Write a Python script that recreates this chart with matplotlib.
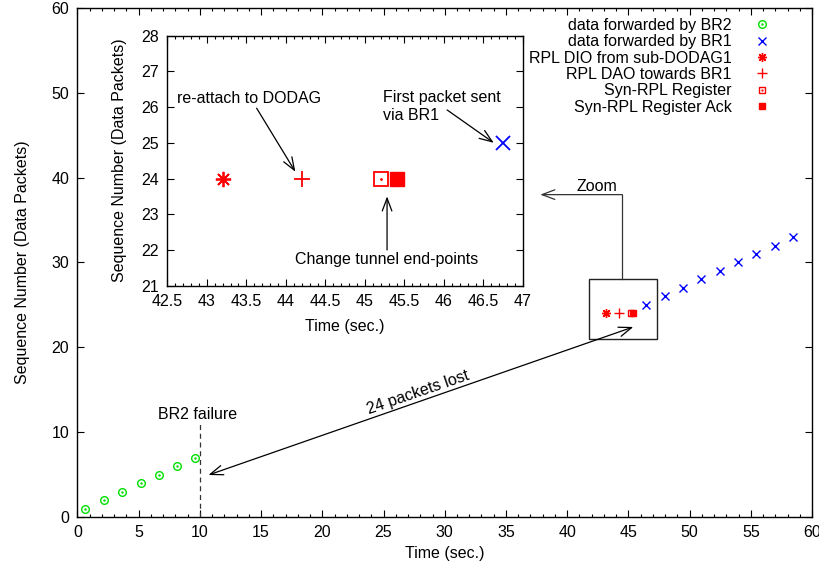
import matplotlib
matplotlib.use('Agg')
import matplotlib.pyplot as plt
from matplotlib.patches import Rectangle
from matplotlib.ticker import MultipleLocator
from matplotlib.legend_handler import HandlerTuple

plt.rcParams['font.family'] = ['Liberation Sans', 'DejaVu Sans']
plt.rcParams['font.size'] = 11.5

# packets forwarded by BR2 (before failure)
br2_time = [0.65, 2.15, 3.65, 5.15, 6.65, 8.15, 9.6]
br2_seq = [1, 2, 3, 4, 5, 6, 7]

# packets forwarded by BR1 (after recovery)
br1_time = [46.45, 47.95, 49.45, 50.95, 52.45, 53.95, 55.45, 56.95, 58.45]
br1_seq = [25, 26, 27, 28, 29, 30, 31, 32, 33]

# control messages, all at sequence 24
dio_time = [43.2]
dao_time = [44.2]
reg_time = [45.2]
ack_time = [45.4]
ctrl_seq = [24]

# first packet via BR1 as shown in the zoom
first_br1_time = [46.75]
first_br1_seq = [25]

GREEN = '#00e000'
BLUE = '#0000ff'
RED = '#ff0000'
ASTER = (8, 2, 0)


def style_ticks(ax):
    ax.tick_params(which='both', direction='in', top=True, right=True, pad=6)
    ax.tick_params(which='major', length=5, width=0.8)
    ax.tick_params(which='minor', length=2.5, width=0.8)
    for s in ax.spines.values():
        s.set_linewidth(1.0)


fig = plt.figure(figsize=(8.19, 5.71), dpi=100)
ax = fig.add_axes([0.0946, 0.0946, 0.8969, 0.8914])

h_br2 = ax.plot(br2_time, br2_seq, 'o', ls='none', mfc='none', mec=GREEN, ms=5.5, mew=1.0)[0]
d_br2 = ax.plot(br2_time, br2_seq, '.', ls='none', color=GREEN, ms=1.5)[0]
h_br1 = ax.plot(br1_time, br1_seq, 'x', ls='none', color=BLUE, ms=5.5, mew=1.0)[0]
h_dio = ax.plot(dio_time, ctrl_seq, marker=ASTER, ls='none', color=RED, ms=6.5, mew=1.0)[0]
h_dao = ax.plot(dao_time, ctrl_seq, '+', ls='none', color=RED, ms=6.5, mew=1.0)[0]
h_reg = ax.plot(reg_time, ctrl_seq, 's', ls='none', mfc='none', mec=RED, ms=5, mew=1.0)[0]
d_reg = ax.plot(reg_time, ctrl_seq, '.', ls='none', color=RED, ms=1.2)[0]
h_ack = ax.plot(ack_time, ctrl_seq, 's', ls='none', color=RED, ms=5)[0]

ax.set_xlim(0, 60)
ax.set_ylim(0, 60)
ax.xaxis.set_major_locator(MultipleLocator(5))
ax.xaxis.set_minor_locator(MultipleLocator(1))
ax.yaxis.set_major_locator(MultipleLocator(10))
style_ticks(ax)
ax.set_xlabel('Time (sec.)', labelpad=4)
ax.set_ylabel('Sequence Number (Data Packets)', labelpad=15)

# BR2 failure marker
ax.plot([10, 10], [0, 11], ls=(0, (4, 3)), color='#333333', lw=0.9)
ax.text(9.8, 12.1, 'BR2 failure', ha='center', va='center')

# packets lost arrow
ax.annotate('', xy=(10.7, 4.95), xytext=(45.4, 22.4),
            arrowprops=dict(arrowstyle='<->,head_length=0.8,head_width=0.3', lw=0.9, color='black',
                            shrinkA=0, shrinkB=0))
ax.text(27.8, 14.7, '24 packets lost', rotation=19, ha='center', va='center')

# zoom box and pointer
ax.add_patch(Rectangle((41.8, 21.0), 5.5, 7.0, fill=False, lw=1.0, ec='#222222'))
ax.plot([44.5, 44.5], [28.0, 38.0], color='#333333', lw=0.9)
ax.annotate('', xy=(37.8, 38.0), xytext=(44.5, 38.0),
            arrowprops=dict(arrowstyle='->,head_length=0.8,head_width=0.3', lw=0.9, color='#333333',
                            shrinkA=0, shrinkB=0))
ax.text(42.4, 39.0, 'Zoom', ha='center', va='center')

leg = ax.legend([(h_br2, d_br2), h_br1, h_dio, h_dao, (h_reg, d_reg), h_ack],
                ['data forwarded by BR2', 'data forwarded by BR1', 'RPL DIO from sub-DODAG1',
                 'RPL DAO towards BR1', 'Syn-RPL Register', 'Syn-RPL Register Ack'],
                handler_map={tuple: HandlerTuple(ndivide=1, pad=0)},
                markerfirst=False, frameon=False, loc='upper right',
                bbox_to_anchor=(0.940, 0.969), bbox_transform=fig.transFigure,
                borderpad=0, borderaxespad=0, handlelength=1.0, handletextpad=1.4,
                labelspacing=0.09, numpoints=1)

# inset zoom
ax_in = fig.add_axes([0.2043, 0.4997, 0.4343, 0.4378])
ax_in.plot(dio_time, ctrl_seq, marker=ASTER, ls='none', color=RED, ms=11, mew=1.3)
ax_in.plot(dao_time, ctrl_seq, '+', ls='none', color=RED, ms=11, mew=1.3)
ax_in.plot(reg_time, ctrl_seq, 's', ls='none', mfc='none', mec=RED, ms=10.5, mew=1.3)
ax_in.plot(reg_time, ctrl_seq, '.', ls='none', color=RED, ms=2)
ax_in.plot(ack_time, ctrl_seq, 's', ls='none', color=RED, ms=10.5)
ax_in.plot(first_br1_time, first_br1_seq, 'x', ls='none', color=BLUE, ms=10, mew=1.3)

ax_in.set_xlim(42.5, 47)
ax_in.set_ylim(21, 28)
ax_in.xaxis.set_major_locator(MultipleLocator(0.5))
ax_in.xaxis.set_minor_locator(MultipleLocator(0.1))
ax_in.yaxis.set_major_locator(MultipleLocator(1))
ax_in.xaxis.set_major_formatter(plt.FuncFormatter(lambda v, p: ('%g' % v)))
style_ticks(ax_in)
ax_in.set_xlabel('Time (sec.)', labelpad=7)
ax_in.set_ylabel('Sequence Number (Data Packets)', labelpad=10)

arrow = dict(arrowstyle='->,head_length=0.8,head_width=0.3', lw=0.9, color='black',
             shrinkA=0, shrinkB=0)
ax_in.text(42.62, 26.25, 're-attach to DODAG', ha='left', va='center')
ax_in.annotate('', xy=(44.12, 24.19), xytext=(43.63, 25.97), arrowprops=arrow)
ax_in.text(45.23, 26.02, 'First packet sent\nvia BR1', ha='left', va='center', linespacing=1.2)
ax_in.annotate('', xy=(46.63, 25.0), xytext=(46.04, 25.92), arrowprops=arrow)
ax_in.annotate('', xy=(45.28, 23.5), xytext=(45.28, 22.0), arrowprops=arrow)
ax_in.text(45.28, 21.72, 'Change tunnel end-points', ha='center', va='center')

fig.savefig('out.png', dpi=100)
